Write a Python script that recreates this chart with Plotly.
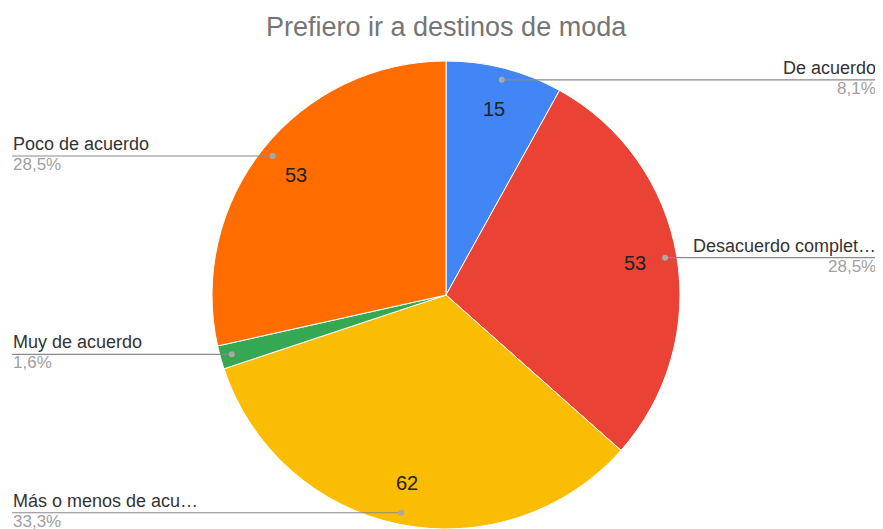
import math
import plotly.graph_objects as go

TITLE = "Prefiero ir a destinos de moda"
categories = ["De acuerdo", "Desacuerdo completamente", "Más o menos de acuerdo",
              "Muy de acuerdo", "Poco de acuerdo"]
values = [15, 53, 62, 3, 53]
colors = ["#4285f4", "#ea4335", "#fbbc04", "#34a853", "#ff6d01"]

# page body has an 8px margin, so the figure is a bit smaller than the window
OFF = 8
W, H = 883 - OFF, 529 - OFF
CX, CY, R = 446, 295, 234      # pie centre / radius in window pixels
LEFT_X, RIGHT_X = 12, 877      # where the outside labels sit
FONT = "Liberation Sans, Arial, sans-serif"


def px(x, y):
    return (x - OFF) / W, 1 - (y - OFF) / H


def short(name, n=18):
    return name if len(name) <= n else name[:n] + "\u2026"


def pct(v, total):
    return f"{100 * v / total:.1f}".replace(".", ",") + "%"


total = sum(values)

dx0, dy0 = px(CX - R, CY + R)
dx1, dy1 = px(CX + R, CY - R)
pie = go.Pie(labels=categories, values=values, sort=False, direction="clockwise",
             rotation=0, textinfo="none", hoverinfo="label+value+percent",
             marker=dict(colors=colors, line=dict(color="white", width=1)),
             domain=dict(x=[dx0, dx1], y=[max(dy0, 0), dy1]))

fig = go.Figure(pie)

annotations = []
shapes = []
start = 0
for name, v in zip(categories, values):
    frac = v / total
    mid = (start + frac / 2) * 2 * math.pi
    start += frac
    sx, sy = math.sin(mid), -math.cos(mid)

    # value inside the slice
    if frac > 0.05:
        x, y = px(CX + 0.82 * R * sx, CY + 0.82 * R * sy)
        annotations.append(dict(x=x, y=y, xref="paper", yref="paper", text=str(v),
                                showarrow=False, xanchor="center", yanchor="middle",
                                font=dict(size=20, color="#222222")))

    # leader dot + line + outside label
    dx, dy = CX + 0.95 * R * sx, CY + 0.95 * R * sy
    right = sx >= 0
    end_x = RIGHT_X if right else LEFT_X
    x0, y0 = px(dx, dy)
    x1, _ = px(end_x, dy)
    shapes.append(dict(type="line", xref="paper", yref="paper", x0=x0, y0=y0, x1=x1, y1=y0,
                       line=dict(color="#8a8a8a", width=1.2)))
    cx0, cy0 = px(dx - 3, dy + 3)
    cx1, cy1 = px(dx + 3, dy - 3)
    shapes.append(dict(type="circle", xref="paper", yref="paper",
                       x0=cx0, x1=cx1, y0=cy0, y1=cy1,
                       fillcolor="#a8a8a8", line=dict(width=0)))
    anchor = "right" if right else "left"
    annotations.append(dict(x=x1, y=y0 + 1 / H, xref="paper", yref="paper", text=short(name),
                            showarrow=False, xanchor=anchor, yanchor="bottom", borderpad=0,
                            font=dict(size=18, color="#333333")))
    annotations.append(dict(x=x1, y=y0 + 2 / H, xref="paper", yref="paper", text=pct(v, total),
                            showarrow=False, xanchor=anchor, yanchor="top", borderpad=0,
                            font=dict(size=17, color="#a0a0a0")))

tx, ty = px(446, 27)
annotations.append(dict(x=tx, y=ty, xref="paper", yref="paper", text=TITLE,
                        showarrow=False, xanchor="center", yanchor="middle",
                        font=dict(size=27, color="#757575")))

fig.update_layout(width=W, height=H, margin=dict(l=0, r=0, t=0, b=0),
                  paper_bgcolor="white", plot_bgcolor="white", showlegend=False,
                  font=dict(family=FONT), annotations=annotations, shapes=shapes)

fig.write_html("out.html")
